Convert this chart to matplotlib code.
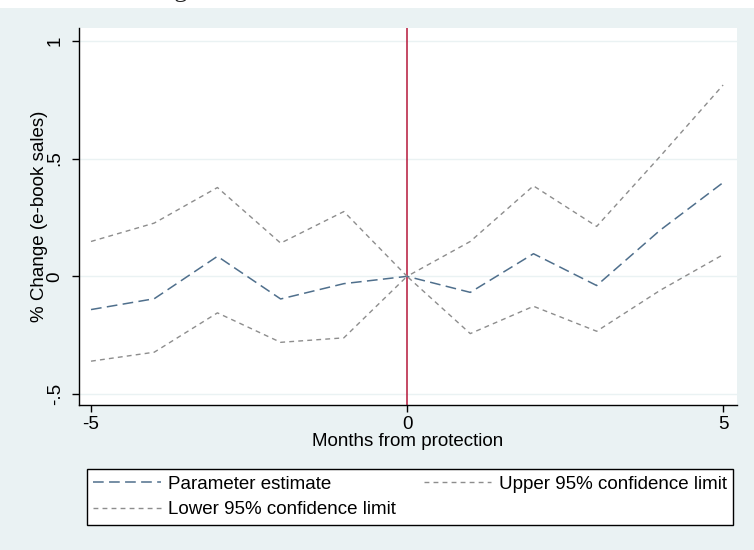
import numpy as np
import matplotlib.pyplot as plt
from matplotlib.patches import Rectangle

# months relative to protection and estimates
months = [-5, -4, -3, -2, -1, 0, 1, 2, 3, 4, 5]
estimate = [-0.141, -0.095, 0.085, -0.096, -0.031, 0.0, -0.068, 0.096, -0.039, 0.195, 0.398]
upper = [0.148, 0.226, 0.377, 0.141, 0.275, 0.0, 0.148, 0.384, 0.212, 0.508, 0.812]
lower = [-0.360, -0.322, -0.155, -0.280, -0.261, 0.0, -0.243, -0.127, -0.233, -0.060, 0.092]

xticks = [-5, 0, 5]
yticks = [-0.5, 0, 0.5, 1]
yticklabels = ['-.5', '0', '.5', '1']

bg = '#eaf2f3'
plt.rcParams['font.family'] = ['Liberation Sans', 'DejaVu Sans']

fig = plt.figure(figsize=(7.54, 5.5), dpi=100, facecolor='white')
fig.patches.append(Rectangle((0, 0), 1, 542 / 550, transform=fig.transFigure,
                             facecolor=bg, edgecolor='none', zorder=-5))
# title, mostly cut off at the top of the image
fig.text(0.52, 1.0 + 3 / 550, 'Figure 4: Effect of Protection on E-book Sales',
         family='Liberation Serif', fontsize=18.5, ha='center', va='baseline', color='#222222',
         zorder=-4)

ax = fig.add_axes([79 / 754, 1 - 405 / 550, (737 - 79) / 754, (405 - 28) / 550], zorder=2)
ax.set_facecolor('white')
ax.set_xlim(-5.19, 5.22)
ax.set_ylim(-0.546, 1.054)

for y in yticks:
    ax.axhline(y, color=bg, lw=1.0, zorder=1)
ax.axvline(0, color='#b5173a', lw=1.1, zorder=2)

l_est, = ax.plot(months, estimate, color='#4f6f8c', lw=1.1, dashes=(7, 3.5), zorder=3,
                 label='Parameter estimate')
l_up, = ax.plot(months, upper, color='#8d8d8d', lw=1.0, dashes=(3.5, 3), zorder=3,
                label='Upper 95% confidence limit')
l_lo, = ax.plot(months, lower, color='#8d8d8d', lw=1.0, dashes=(3.5, 3), zorder=3,
                label='Lower 95% confidence limit')

ax.set_xticks(xticks)
ax.set_xticklabels([str(v) for v in xticks])
ax.set_yticks(yticks)
ax.set_yticklabels(yticklabels, rotation=90, va='center')
ax.tick_params(labelsize=13.5, length=5, width=1, color='black')
ax.tick_params(axis='y', pad=6)
ax.tick_params(axis='x', pad=3)
for side in ['top', 'right']:
    ax.spines[side].set_visible(False)
for side in ['left', 'bottom']:
    ax.spines[side].set_color('black')
    ax.spines[side].set_linewidth(1.0)

ax.set_xlabel('Months from protection', fontsize=13.5, labelpad=0)
ax.set_ylabel('% Change (e-book sales)', fontsize=13.5, labelpad=-1)

leg = fig.legend([l_est, l_lo, l_up],
                 [l_est.get_label(), l_lo.get_label(), l_up.get_label()],
                 ncol=2, loc='center', mode='expand',
                 bbox_to_anchor=(83 / 754, 22 / 550, (737 - 83) / 754, 62 / 550),
                 fontsize=13.5, frameon=True, fancybox=False, framealpha=1,
                 edgecolor='black', handlelength=3.6, handletextpad=0.4,
                 labelspacing=0.45, borderpad=0.35, borderaxespad=0.2)
leg.get_frame().set_linewidth(1.0)

fig.savefig('out.png', dpi=100, facecolor=fig.get_facecolor())
